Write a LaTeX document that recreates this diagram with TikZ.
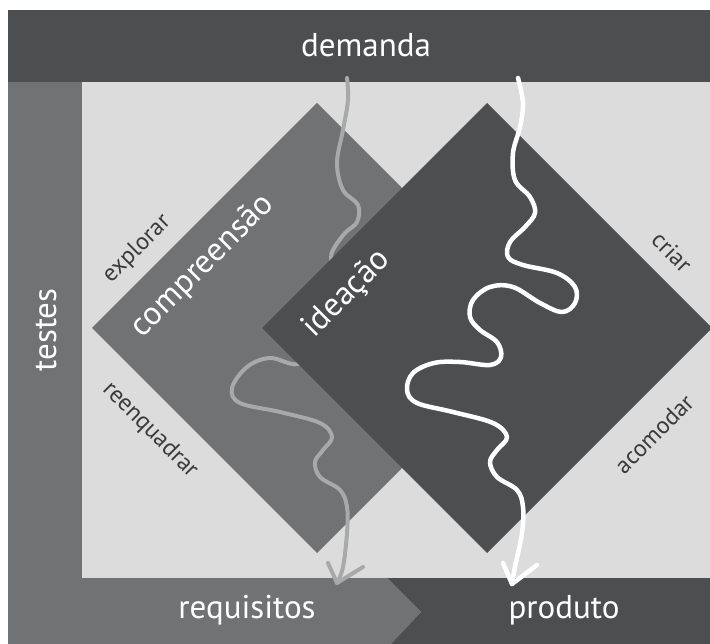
\documentclass[tikz,border=0pt]{standalone}
\usepackage{fontspec}
\setmainfont{PT Sans}
\definecolor{darkband}{HTML}{4D4E50}
\definecolor{midband}{HTML}{717274}
\definecolor{lightbg}{HTML}{DCDCDC}
\definecolor{grayarrow}{HTML}{A8A9AB}
\definecolor{smalltextcol}{HTML}{3A3A3C}
\tikzset{
  bigtext/.style={text=white, font=\fontsize{33}{40}\selectfont, inner sep=0pt},
  smalltext/.style={text=smalltextcol, font=\fontsize{24}{29}\selectfont, inner sep=0pt},
  grayline/.style={draw=grayarrow, line width=4pt, line cap=round, line join=round},
  whiteline/.style={draw=white, line width=4.5pt, line cap=round, line join=round},
}
\begin{document}
\begin{tikzpicture}[x=1pt, y=-1pt]
\useasboundingbox (0,0) rectangle (710,644);
\fill[white] (0,0) rectangle (710,644);
% bands
\fill[darkband] (8,10) rectangle (710,82);
\fill[midband] (8,82) rectangle (82,644);
\fill[lightbg] (82,82) rectangle (710,578);
\fill[midband] (8,578) -- (387,578) -- (421,612) -- (391,644) -- (8,644) -- cycle;
\fill[darkband] (387,578) -- (710,578) -- (710,644) -- (391,644) -- (421,612) -- cycle;
% compreensao diamond
\fill[midband] (317,103) -- (542,328) -- (317,553) -- (92,328) -- cycle;
% gray wiggle
\coordinate (gstart) at (347,78);
\coordinate (gtip) at (337,583);
\draw[grayline] plot[smooth, tension=0.6] coordinates {(347,78) (348,100) (343,130) (337,163) (343,190) (358,205) (357,222) (345,233) (333,250) (331,262) (330,300) (318,345) (298,364) (270,358) (247,367) (232,388) (240,403) (280,412) (320,423) (332,437) (323,450) (315,462) (320,477) (340,490) (347,507) (347,533) (343,567) (337,583)};
\draw[grayline] (328,563) -- (gtip) -- (363,567);
% ideacao diamond
\fill[darkband] (487,103) -- (712,328) -- (487,553) -- (262,328) -- cycle;
% white wiggle
\coordinate (wstart) at (518,78);
\coordinate (wtip) at (512,584);
\draw[whiteline] plot[smooth, tension=0.6] coordinates {(518,78) (523,103) (520,127) (513,153) (515,180) (530,197) (535,213) (525,227) (510,242) (508,257) (523,265) (557,273) (575,287) (575,303) (562,312) (540,303) (513,287) (490,287) (473,300) (470,317) (480,330) (497,342) (501,357) (490,365) (460,362) (434,363) (413,373) (407,390) (417,403) (453,412) (493,423) (507,437) (497,450) (490,462) (497,477) (517,490) (523,507) (522,533) (515,567) (512,584)};
\draw[whiteline] (503,563) -- (wtip) -- (537,565);
% texts
\node[bigtext] (demanda) at (366,45) {demanda};
\node[bigtext] (requisitos) at (247,610) {requisitos};
\node[bigtext] (produto) at (564,610) {produto};
\node[bigtext, rotate=90] (testes) at (46,330) {testes};
\node[bigtext, rotate=45] (compreensao) at (203,266) {compreensão};
\node[bigtext, rotate=45] (ideacao) at (347,294) {ideação};
\node[smalltext, rotate=45] (explorar) at (137,249) {explorar};
\node[smalltext, rotate=-45] (reenquadrar) at (150,430) {reenquadrar};
\node[smalltext, rotate=-45] (criar) at (672,252) {criar};
\node[smalltext, rotate=45] (acomodar) at (654,434) {acomodar};
\end{tikzpicture}
\end{document}
